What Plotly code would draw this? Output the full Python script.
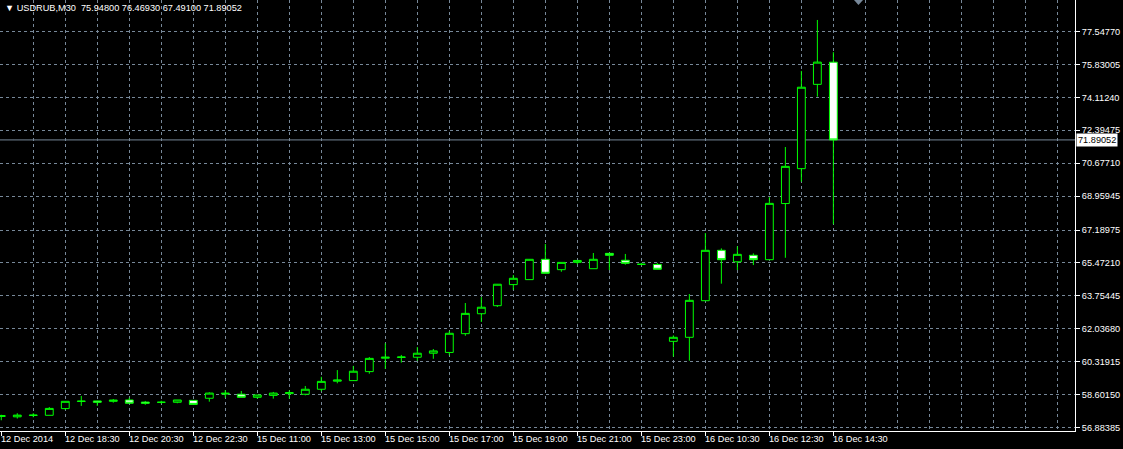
import plotly.graph_objects as go

# ---- data (USDRUB, M30) ----
opens = [57.46, 57.44, 57.51, 57.52, 57.87, 58.24, 58.27, 58.25, 58.32, 58.21,
         58.20, 58.20, 58.30, 58.41, 58.63, 58.62, 58.46, 58.56, 58.65, 58.62,
         58.88, 59.30, 59.33, 59.80, 60.50, 60.54, 60.55, 60.76, 60.80, 61.78,
         62.82, 63.24, 64.34, 64.60, 65.66, 65.12, 65.50, 65.17, 65.97, 65.61,
         65.40, 65.39, 61.38, 61.59, 63.50, 66.13, 65.53, 65.87, 65.64, 68.57,
         70.39, 74.79, 75.948]
highs = [57.55, 57.63, 57.63, 57.95, 58.26, 58.53, 58.28, 58.37, 58.44, 58.27,
         58.28, 58.32, 58.31, 58.72, 58.84, 58.79, 58.58, 58.74, 58.82, 59.05,
         59.53, 59.88, 60.10, 60.56, 61.28, 60.67, 61.08, 60.98, 61.92, 63.38,
         63.69, 64.37, 64.84, 65.67, 66.46, 65.51, 65.60, 65.99, 65.98, 65.94,
         65.47, 65.47, 61.69, 63.85, 67.03, 66.23, 66.34, 65.97, 68.90, 71.52,
         75.49, 78.15, 76.4693]
lows = [57.26, 57.35, 57.42, 57.52, 57.80, 58.01, 58.01, 58.18, 58.13, 58.07,
        58.13, 58.15, 58.08, 58.23, 58.44, 58.45, 58.39, 58.39, 58.39, 58.56,
        58.77, 59.19, 59.33, 59.69, 59.94, 60.27, 60.37, 60.47, 60.65, 61.67,
        62.39, 63.17, 64.06, 64.59, 64.93, 65.01, 65.40, 65.17, 65.10, 65.38,
        65.35, 65.13, 60.58, 60.37, 63.50, 64.39, 65.10, 65.36, 65.64, 65.74,
        69.71, 74.15, 67.491]
closes = [57.50, 57.53, 57.53, 57.88, 58.25, 58.26, 58.20, 58.31, 58.15, 58.15,
          58.20, 58.32, 58.09, 58.68, 58.67, 58.46, 58.58, 58.68, 58.70, 58.88,
          59.29, 59.36, 59.82, 60.49, 60.55, 60.56, 60.76, 60.88, 61.80, 62.84,
          63.16, 64.36, 64.67, 65.66, 64.93, 65.50, 65.60, 65.66, 65.87, 65.45,
          65.40, 65.14, 61.59, 63.52, 66.13, 65.64, 65.92, 65.64, 68.58, 70.51,
          74.64, 75.95, 71.89052]
bar_index = list(range(len(opens)))

xtick_index = list(range(0, 53, 4))
xtick_labels = ["12 Dec 2014", "12 Dec 18:30", "12 Dec 20:30", "12 Dec 22:30",
                "15 Dec 11:00", "15 Dec 13:00", "15 Dec 15:00", "15 Dec 17:00",
                "15 Dec 19:00", "15 Dec 21:00", "15 Dec 23:00", "16 Dec 10:30",
                "16 Dec 12:30", "16 Dec 14:30"]
ytick_labels = ["56.88385", "58.60150", "60.31915", "62.03680", "63.75445",
                "65.47210", "67.18975", "68.95945", "70.67710", "72.39475",
                "74.11240", "75.83005", "77.54770"]
last_price = 71.89052
header = "\u25BC USDRUB,M30\u00a0\u00a075.94800 76.46930 67.49100 71.89052"

# ---- style ----
FONT = "Liberation Sans"
FS = 9.2
GRID = "#778899"
LIME = "#00ff00"

fig = go.Figure(go.Candlestick(
    x=bar_index, open=opens, high=highs, low=lows, close=closes,
    increasing=dict(line=dict(color=LIME, width=1), fillcolor="#000000"),
    decreasing=dict(line=dict(color=LIME, width=1), fillcolor="#ffffff"),
    whiskerwidth=0, hoverinfo="skip", showlegend=False,
))

fig.update_layout(
    width=1123, height=449,
    margin=dict(l=0, r=48, t=0, b=18, pad=0),
    paper_bgcolor="#000000", plot_bgcolor="#000000",
    font=dict(family=FONT, size=FS, color="#ffffff"),
    hovermode=False, showlegend=False,
    xaxis=dict(
        range=[-0.08, 67.1], rangeslider=dict(visible=False),
        tickmode="array", tickvals=xtick_index, showticklabels=False,
        ticks="outside", ticklen=4, tickcolor="#ffffff", tickwidth=1,
        showline=True, linecolor="#ffffff", linewidth=1,
        showgrid=False, zeroline=False,
        minor=dict(tickmode="array", tickvals=list(range(2, 67, 2)),
                   showgrid=True, gridcolor=GRID, griddash="3px,3px",
                   gridwidth=1, ticks=""),
    ),
    yaxis=dict(
        side="right", range=[56.7012, 79.1914],
        tickmode="array", tickvals=[float(t) for t in ytick_labels],
        ticktext=ytick_labels,
        ticks="outside", ticklen=4, tickcolor="#ffffff", tickwidth=1,
        showline=True, linecolor="#ffffff", linewidth=1,
        showgrid=True, gridcolor=GRID, griddash="3px,3px", gridwidth=1,
        zeroline=False, tickfont=dict(family=FONT, size=FS, color="#ffffff"),
    ),
)

# x tick labels, left-aligned at their tick marks
for xi, lab in zip(xtick_index, xtick_labels):
    fig.add_annotation(x=xi, xref="x", y=0, yref="paper", text=lab,
                       xanchor="left", yanchor="top", xshift=-2, yshift=-1,
                       showarrow=False,
                       font=dict(family=FONT, size=FS, color="#ffffff"))

# current price line and its label
fig.add_shape(type="line", xref="paper", x0=0, x1=1, yref="y",
              y0=last_price, y1=last_price,
              line=dict(color=GRID, width=1), layer="below")
fig.add_annotation(x=1, xref="paper", y=last_price, yref="y",
                   text=f"{last_price:.5f}", xanchor="left", yanchor="middle",
                   xshift=1, showarrow=False, bgcolor="#ffffff", borderpad=1,
                   font=dict(family=FONT, size=FS, color="#000000"))

# header
fig.add_annotation(x=0, xref="paper", y=1, yref="paper", text=header,
                   xanchor="left", yanchor="top", xshift=3, yshift=-1,
                   showarrow=False,
                   font=dict(family=FONT, size=FS, color="#ffffff"))

# chart-shift marker at the top
fig.add_shape(type="path", xref="paper", yref="paper",
              path="M 0.7944 1 L 0.8028 1 L 0.7986 0.9884 Z",
              fillcolor=GRID, line=dict(width=0))

fig.write_html("out.html", config={"displayModeBar": False},
               post_script="document.body.style.margin='0px';")
